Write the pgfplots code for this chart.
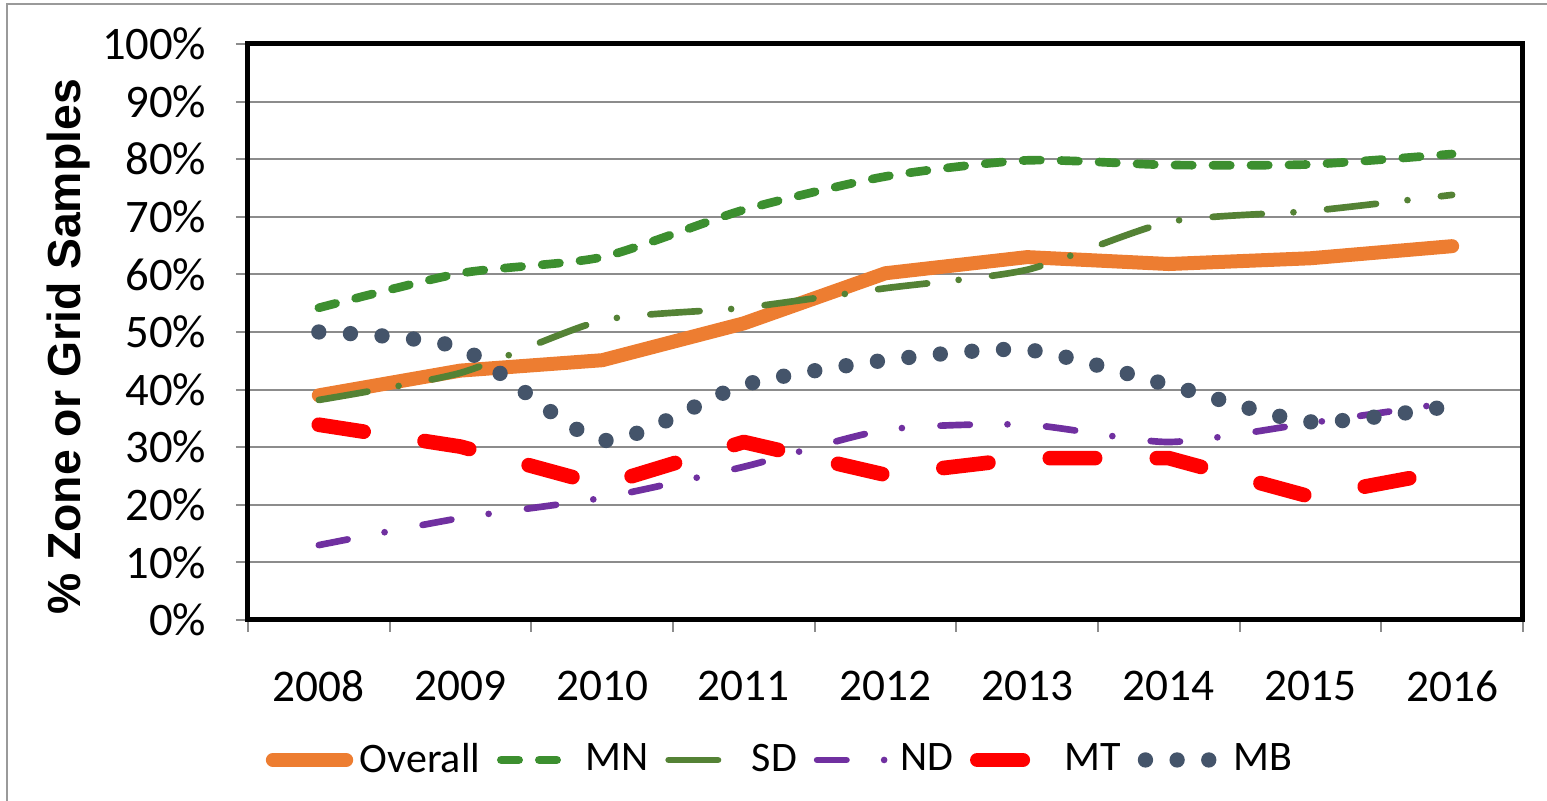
\documentclass[border=0pt]{standalone}
\usepackage{fontspec}
\setmainfont{Carlito}
\newfontfamily\arialfont{Liberation Sans}
\usepackage{pgfplots}
\pgfplotsset{compat=1.18}
\definecolor{cOverall}{HTML}{ED7D31}
\definecolor{cMN}{HTML}{3C8F2F}
\definecolor{cSD}{HTML}{548235}
\definecolor{cND}{HTML}{7030A0}
\definecolor{cMT}{HTML}{FF0000}
\definecolor{cMB}{HTML}{44546A}
\definecolor{gridgray}{HTML}{8C8C8C}
\definecolor{framegray}{HTML}{9A9A9A}
\begin{document}
\begin{tikzpicture}
\path[use as bounding box] (-74.4pt,-54.3pt) rectangle (389.7pt,186pt);
\draw[framegray, line width=0.6pt] (-72.3pt,-60pt) -- (-72.3pt,184.8pt) -- (395pt,184.8pt);
\begin{axis}[
  name=ax, at={(0,0)}, anchor=south west,
  scale only axis, width=382.5pt, height=172.8pt,
  xmin=-0.5, xmax=8.5, ymin=0, ymax=100,
  xtick={0,...,8},
  xticklabels={2008,2009,2010,2011,2012,2013,2014,2015,2016},
  minor xtick={-0.5,0.5,...,8.5},
  ytick={0,10,...,100},
  yticklabels={0\%,10\%,20\%,30\%,40\%,50\%,60\%,70\%,80\%,90\%,100\%},
  tick align=outside, xtick pos=bottom, ytick pos=left,
  major tick length=3.6pt, minor tick length=3.6pt,
  major x tick style={draw=none},
  minor x tick style={gridgray, line width=0.6pt},
  major y tick style={gridgray, line width=0.6pt},
  ymajorgrids, grid style={gridgray, line width=0.6pt},
  axis line style={black, line width=1.5pt},
  yticklabel style={font=\fontsize{14}{16}\selectfont, inner sep=0pt, xshift=-8.7pt},
  xticklabel style={font=\fontsize{13.6}{16}\selectfont, inner sep=0pt, yshift=-11.5pt},
  ylabel={\% Zone or Grid Samples},
  ylabel style={font=\arialfont\bfseries\fontsize{13.9}{15}\selectfont, at={(axis description cs:-0.1408,0.474)}, anchor=center},
  legend columns=6,
  legend cell align=left,
  legend style={draw=none, fill=none, at={(axis description cs:0.419,-0.243)}, anchor=center,
    font=\fontsize{12.6}{14}\selectfont, /tikz/every even column/.append style={column sep=3pt}},
  legend image code/.code={\draw[#1] (0pt,0pt) -- (22pt,0pt);},
]
\addplot[cOverall, line width=4.2pt, line cap=round, line join=round] coordinates {
  (0,39) (1,43.3) (2,45.1) (3,51.5) (4,60.2) (5,63) (6,61.8) (7,62.8) (8,64.9)};
\addlegendentry{Overall}
\addplot[cMN, line width=2.6pt, line cap=round, smooth, tension=0.4, dash pattern=on 5.2pt off 6.2pt] coordinates {
  (0,54.2) (1,60.2) (2,63) (3,71.2) (4,77) (5,79.8) (6,79) (7,79.1) (8,80.9)};
\addlegendentry{MN}
\addplot[cSD, line width=2pt, line cap=round, smooth, tension=0.4, dash pattern=on 14.8pt off 9.5pt on 0pt off 10.1pt] coordinates {
  (0,38.2) (1,42.9) (2,52) (3,54.2) (4,57.6) (5,60.8) (6,69.1) (7,71) (8,73.8)};
\addlegendentry{SD}
\addplot[cND, line width=2pt, line cap=round, smooth, tension=0.4, dash pattern=on 8.8pt off 11.3pt on 0pt off 11.6pt] coordinates {
  (0,13) (1,17.7) (2,21.2) (3,26.6) (4,33) (5,33.9) (6,30.9) (7,34.2) (8,37.8)};
\addlegendentry{ND}
\addplot[cMT, line width=4.4pt, line cap=round, line join=round, dash pattern=on 13.6pt off 18.5pt] coordinates {
  (0,33.9) (1,30.1) (2,23.4) (3,30.9) (4,25.2) (5,28.1) (6,28.1) (7,21.4) (8,26)};
\addlegendentry{MT}
\addplot[cMB, line width=4.6pt, line cap=round, smooth, tension=0.4, dash pattern=on 0pt off 9.5pt] coordinates {
  (0,50) (1,47.2) (2,31.2) (3,40.8) (4,45.1) (5,46.9) (6,40.8) (7,34.4) (8,37.2)};
\addlegendentry{MB}
\end{axis}
\end{tikzpicture}
\end{document}
